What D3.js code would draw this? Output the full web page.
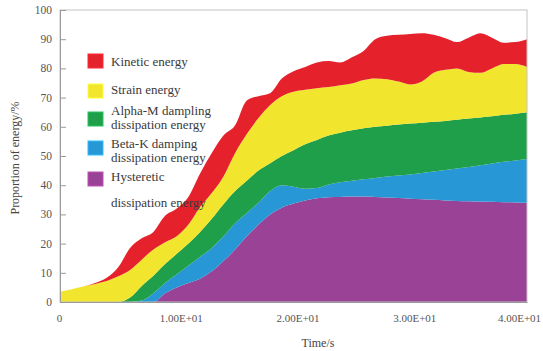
<!DOCTYPE html>
<html>
<head>
<meta charset="utf-8">
<script src="https://cdn.jsdelivr.net/npm/d3@7/dist/d3.min.js"></script>
<style>
  html, body { margin: 0; padding: 0; background: #fff; }
  svg { display: block; font-family: "Liberation Serif", "Times New Roman", serif; }
</style>
</head>
<body>
<svg id="chart" width="543" height="351"></svg>
<script>
// Time steps (s)
const time = [0, 1, 2, 3, 4, 5, 6, 7, 8, 9, 10, 11, 12, 13, 14, 15, 16, 17, 18, 19, 20,
              21, 22, 23, 24, 25, 26, 27, 28, 29, 30, 31, 32, 33, 34, 35, 36, 37, 38, 39, 40];

// Share of each energy component (%) at every time step
const hysteretic = [0, 0, 0, 0, 0, 0, 0, 0, 0, 3, 5, 6.5, 8, 10.5, 14, 18, 22.5, 26.5, 30, 32.3, 33.7,
                    34.8, 35.5, 35.9, 36, 36.1, 36.1, 36, 35.8, 35.6, 35.4, 35.2, 35, 34.8, 34.6, 34.5, 34.4, 34.3, 34.2, 34.1, 34];
const betaK = [0, 0, 0, 0, 0, 0, 0, 0.5, 3, 3.5, 4.5, 6, 7.5, 8, 8.5, 9, 8, 7.5, 8, 7.7, 5.8,
               4, 3.5, 4.3, 5, 5.4, 5.9, 6.5, 7.2, 7.7, 8.3, 9, 9.7, 10.4, 11.1, 11.7, 12.4, 13.1, 13.8, 14.4, 15];
const alphaM = [0, 0, 0, 0, 0, 0, 1.5, 5, 6, 6.5, 7, 7.5, 8.5, 10, 11, 11, 11, 11, 9.5, 10, 12.5,
                15.2, 16.5, 16.8, 17, 17.3, 17.5, 17.5, 17.4, 17.5, 17.4, 17.2, 17, 16.8, 16.7, 16.6, 16.4, 16.2, 16.1, 16, 16];
const strain = [3.5, 4.4, 5.3, 6.2, 7.2, 8.8, 9.5, 9, 9, 7.5, 6, 6.5, 8.5, 8.8, 9.5, 13, 16, 18, 20, 20.5, 20,
                18.7, 17.7, 16.6, 16.2, 16, 16.5, 16.5, 15.9, 14.7, 13.4, 14.1, 16.8, 17.5, 17.6, 16, 15.3, 16.4, 17.4, 17, 15.5];
const kinetic = [0, 0, 0, 0.3, 1.1, 3.2, 7.5, 7.3, 6, 9, 9.5, 9.5, 11.5, 13.7, 14, 9.5, 11.5, 7.5, 4, 6, 7,
                 7.8, 8.8, 8.9, 7.8, 9, 10, 13.5, 14.9, 16, 17.3, 16.5, 13, 10.8, 9, 11.7, 13.5, 10.5, 7.3, 7.5, 9.5];

// Series, bottom of the stack first
const seriesKeys = ["hysteretic", "betaK", "alphaM", "strain", "kinetic"];
const seriesColors = ["#9a4396", "#2797d6", "#1f9f4a", "#f2e52d", "#e5222b"];

// Legend entries, top to bottom
const legendKeys = ["kinetic", "strain", "alphaM", "betaK", "hysteretic"];
const legendLines = [
  ["Kinetic energy"],
  ["Strain energy"],
  ["Alpha-M dampling", "dissipation energy"],
  ["Beta-K damping", "dissipation energy"],
  ["Hysteretic", "dissipation energy"]
];

const yTicks = [0, 10, 20, 30, 40, 50, 60, 70, 80, 90, 100];
const xTicks = [0, 10, 20, 30, 40];
const xTickLabels = ["0", "1.00E+01", "2.00E+01", "3.00E+01", "4.00E+01"];

const xTitle = "Time/s";
const yTitle = "Proportion of energy/%";

// ---- layout ----
const svg = d3.select("#chart");
const plot = { left: 60, right: 527, top: 10, bottom: 302 };

const x = d3.scaleLinear().domain([0, 40]).range([plot.left, plot.right]);
const y = d3.scaleLinear().domain([0, 100]).range([plot.bottom, plot.top]);

const columns = { hysteretic, betaK, alphaM, strain, kinetic };
const rows = time.map((t, i) => {
  const r = { time: t };
  seriesKeys.forEach(k => { r[k] = columns[k][i]; });
  return r;
});

const stacked = d3.stack().keys(seriesKeys)(rows);
const colorOf = d3.scaleOrdinal().domain(seriesKeys).range(seriesColors);

const area = d3.area()
  .x(d => x(d.data.time))
  .y0(d => y(d[0]))
  .y1(d => y(d[1]))
  .curve(d3.curveMonotoneX);

svg.append("g")
  .selectAll("path")
  .data(stacked)
  .join("path")
  .attr("d", area)
  .attr("fill", d => colorOf(d.key));

// frame
const axisColor = "#9a9a9a";
svg.append("rect")
  .attr("x", plot.left).attr("y", plot.top)
  .attr("width", plot.right - plot.left).attr("height", plot.bottom - plot.top)
  .attr("fill", "none").attr("stroke", "#c4c4c4").attr("stroke-width", 1);

// y axis: ticks point into the plot
const yAxis = d3.axisRight(y).tickValues(yTicks).tickSize(6).tickFormat("");
const gy = svg.append("g").attr("transform", `translate(${plot.left},0)`).call(yAxis);
gy.select(".domain").attr("stroke", axisColor);
gy.selectAll(".tick line").attr("stroke", axisColor);

svg.append("g")
  .selectAll("text")
  .data(yTicks)
  .join("text")
  .attr("x", plot.left - 8)
  .attr("y", d => y(d) + 4)
  .attr("text-anchor", "end")
  .attr("font-size", 11.5)
  .attr("fill", "#555")
  .text(d => d);

// x axis
const xAxis = d3.axisBottom(x).tickValues(xTicks).tickSize(0)
  .tickFormat((d, i) => xTickLabels[i]);
const gx = svg.append("g").attr("transform", `translate(0,${plot.bottom})`).call(xAxis);
gx.select(".domain").attr("stroke", axisColor);
gx.selectAll(".tick text")
  .attr("font-family", "'Liberation Serif', 'Times New Roman', serif")
  .attr("font-size", 11)
  .attr("fill", "#555")
  .attr("dy", "1.55em")
  .attr("dx", (d, i) => (i === 0 ? -1 : i === xTicks.length - 1 ? -8 : 4));

// axis titles
svg.append("text")
  .attr("x", 318).attr("y", 347)
  .attr("text-anchor", "middle")
  .attr("font-size", 12)
  .attr("fill", "#444")
  .text(xTitle);

svg.append("text")
  .attr("transform", "translate(19,158) rotate(-90)")
  .attr("text-anchor", "middle")
  .attr("font-size", 12)
  .attr("fill", "#444")
  .text(yTitle);

// legend
const swatchTops = [54, 84, 112, 141, 172];
const lineBaselines = [[66], [94], [115, 129], [148, 162], [181, 207]];
const legend = svg.append("g");
legendKeys.forEach((k, i) => {
  legend.append("rect")
    .attr("x", 88).attr("y", swatchTops[i])
    .attr("width", 15).attr("height", 14)
    .attr("fill", colorOf(k))
    .attr("stroke", d3.color(colorOf(k)).brighter(0.6))
    .attr("stroke-width", 1);
  legendLines[i].forEach((line, j) => {
    legend.append("text")
      .attr("x", 111).attr("y", lineBaselines[i][j])
      .attr("font-size", 13)
      .attr("fill", "#3a3a3a")
      .text(line);
  });
});
</script>
</body>
</html>
